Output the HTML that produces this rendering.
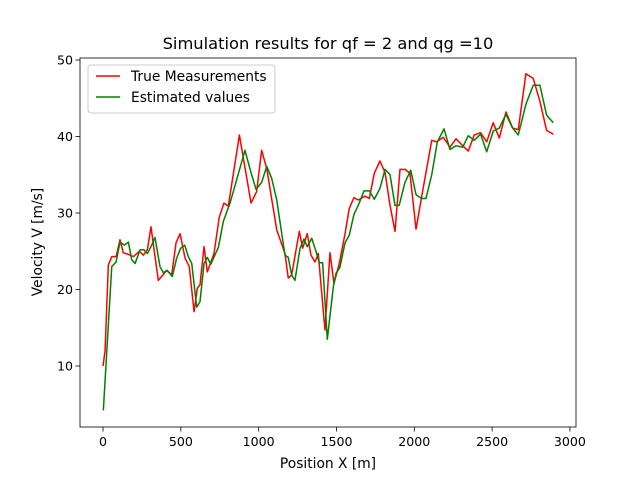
<!DOCTYPE html>
<html><head><meta charset="utf-8"><style>
body{margin:0;background:#fff}
svg{font-family:"DejaVu Sans","Liberation Sans",sans-serif}
</style></head><body>
<svg id="chart" width="640" height="480" xmlns="http://www.w3.org/2000/svg"></svg>
<script>
const xTicks=[0,500,1000,1500,2000,2500,3000];
const yTicks=[10,20,30,40,50];
const redX=[0,13,34,56,84,109,130,163,195,233,259,285,308,355,409,441,469,495,527,554,585,606,623,649,670,713,747,777,805,876,951,987,1019,1052,1116,1169,1190,1212,1261,1283,1312,1336,1362,1383,1426,1458,1484,1518,1555,1582,1612,1640,1683,1711,1743,1779,1812,1844,1876,1908,1940,1972,2011,2047,2112,2144,2186,2229,2268,2311,2347,2385,2426,2465,2507,2546,2589,2632,2668,2717,2764,2807,2850,2893];
const redY=[10,12,23.2,24.3,24.3,26.5,24.8,24.6,24.3,25,24.5,25.2,28.2,21.2,22.5,21.9,26.1,27.3,24.1,23,17.1,20.2,20.6,25.6,22.3,24.7,29.5,31.3,30.9,40.2,31.3,32.8,38.2,35.8,27.8,24.7,21.5,21.9,27.6,25.4,27.3,24.5,23.6,24.7,14.7,24.8,20.8,23.4,27.3,30.6,32,31.7,32.2,31.9,35.2,36.8,35.3,31,27.6,35.7,35.7,35.2,27.9,32.1,39.5,39.3,39.9,38.6,39.7,38.8,38.1,40.2,40.5,39.3,41.8,39.8,43.2,41.1,40.9,48.2,47.6,44.6,40.8,40.3];
const greenX=[2,56,84,109,137,163,184,206,238,263,285,308,334,366,387,413,445,473,499,525,548,570,602,623,649,670,692,741,773,816,912,949,983,1019,1052,1084,1116,1169,1190,1212,1233,1266,1291,1312,1341,1368,1390,1411,1441,1480,1497,1522,1555,1582,1612,1640,1677,1711,1743,1779,1812,1844,1876,1903,1940,1977,2011,2047,2075,2112,2148,2191,2229,2268,2311,2347,2385,2426,2465,2507,2546,2589,2632,2668,2717,2764,2807,2850,2893];
const greenY=[4.2,23,23.6,26.2,25.8,26.2,23.9,23.4,25.2,25.2,24.7,25.6,26.8,23,22.2,22.5,21.7,24.1,25.4,25.8,24.3,23.4,17.7,18.4,23.4,24.2,23.3,25.5,28.9,31.3,38.2,35.4,33.1,34,36.1,34.5,31.7,24.5,24.2,21.9,21.2,25.4,26.6,25.6,26.7,25,23.5,23.5,13.5,20.4,22.1,22.9,26.1,27.1,29.8,31,32.9,32.9,31.8,33.2,35.7,35,31,31,34,35.6,32.4,31.9,31.9,35,39.3,41,38.3,38.8,38.6,40.1,39.5,40.3,38,40.7,41.1,42.9,41.1,40.2,44.2,46.7,46.7,42.8,41.8];

const L=80,R=576,T=58,B=427;
const xmin=-148,xmax=3039,ymin=2.03,ymax=50.26;
const sx=v=>L+(v-xmin)/(xmax-xmin)*(R-L);
const sy=v=>B-(v-ymin)/(ymax-ymin)*(B-T);
const svg=document.getElementById('chart');
const NS='http://www.w3.org/2000/svg';
function mk(tag,attrs,parent){const e=document.createElementNS(NS,tag);for(const k in attrs)e.setAttribute(k,attrs[k]);(parent||svg).appendChild(e);return e;}

function series(xs,ys,color,name){
  const d=xs.map((x,i)=>(i?'L':'M')+sx(x).toFixed(2)+','+sy(ys[i]).toFixed(2)).join('');
  const p=mk('path',{d:d,fill:'none',stroke:color,'stroke-width':1.5,'stroke-linejoin':'round'});
  
  
}
series(redX,redY,'#ff0000','true-measurements-line');
series(greenX,greenY,'#008000','estimated-values-line');

const frame=mk('rect',{x:L,y:T,width:R-L,height:B-T,fill:'none',stroke:'#000','stroke-width':0.8});



xTicks.forEach(v=>{
  const x=sx(v);
  mk('line',{x1:x,x2:x,y1:B,y2:B+4.5,stroke:'#000','stroke-width':0.8});
  const t=mk('text',{x:x,y:B+19,'text-anchor':'middle','font-size':'12.6px'});
  t.textContent=v;
  
  
});
yTicks.forEach(v=>{
  const y=sy(v);
  mk('line',{x1:L,x2:L-4.5,y1:y,y2:y,stroke:'#000','stroke-width':0.8});
  const t=mk('text',{x:L-7,y:y+4.5,'text-anchor':'end','font-size':'12.6px'});
  t.textContent=v;
  
  
});
</script>
<svg style="position:absolute;left:0;top:0" width="640" height="480" xmlns="http://www.w3.org/2000/svg" font-family="DejaVu Sans, Liberation Sans, sans-serif">
  <text x="328" y="49" text-anchor="middle" font-size="16.3px">Simulation results for qf = 2 and qg =10</text>
  <text x="328" y="468" text-anchor="middle" font-size="13.8px">Position X [m]</text>
  <text transform="translate(42,242) rotate(-90)" text-anchor="middle" font-size="13.8px">Velocity V [m/s]</text>
  <g>
    <rect x="88" y="65" width="187" height="48" rx="3" fill="#fff" fill-opacity="0.8" stroke="#ccc" stroke-width="1"/>
    <line x1="96" x2="120" y1="76" y2="76" stroke="#ff0000" stroke-width="1.5"/>
    <text x="131" y="81" font-size="13.8px">True Measurements</text>
    <line x1="96" x2="120" y1="97" y2="97" stroke="#008000" stroke-width="1.5"/>
    <text x="131" y="102" font-size="13.8px">Estimated values</text>
  </g>
</svg>
</body></html>
